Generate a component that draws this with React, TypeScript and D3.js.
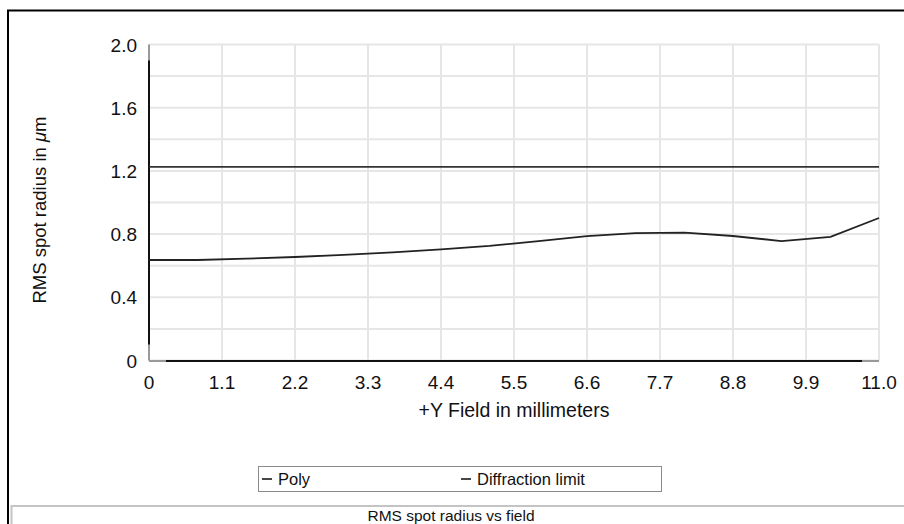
import { useEffect, useRef } from "react";
import * as d3 from "d3";

// field positions (mm) and RMS spot radius (um)
const fieldMm = [0, 0.73, 1.47, 2.2, 2.93, 3.67, 4.4, 5.13, 5.87, 6.6, 7.33, 8.07, 8.8, 9.53, 10.27, 11.0];
const polyRms = [0.636, 0.636, 0.645, 0.655, 0.668, 0.684, 0.703, 0.725, 0.755, 0.787, 0.806, 0.809, 0.788, 0.756, 0.782, 0.902];
const diffractionLimit = [1.226, 1.226];
const diffractionField = [0, 11.0];

const xTicks = [0, 1.1, 2.2, 3.3, 4.4, 5.5, 6.6, 7.7, 8.8, 9.9, 11.0];
const xTickLabels = ["0", "1.1", "2.2", "3.3", "4.4", "5.5", "6.6", "7.7", "8.8", "9.9", "11.0"];
const yTicks = [0, 0.4, 0.8, 1.2, 1.6, 2.0];
const yTickLabels = ["0", "0.4", "0.8", "1.2", "1.6", "2.0"];
const yGrid = [0, 0.2, 0.4, 0.6, 0.8, 1.0, 1.2, 1.4, 1.6, 1.8, 2.0];

const legendNames = ["Poly", "Diffraction limit"];
const chartTitle = "RMS spot radius vs field";

const FONT = "'Liberation Sans', Arial, sans-serif";

export default function App() {
  const ref = useRef<SVGSVGElement>(null);

  useEffect(() => {
    const svg = d3.select(ref.current);
    svg.selectAll("*").remove();

    const x = d3.scaleLinear().domain([0, 11]).range([149, 879]);
    const y = d3.scaleLinear().domain([0, 2]).range([360.5, 44.5]);

    // outer frame
    svg.append("rect")
      .attr("x", 8).attr("y", 10.5)
      .attr("width", 920).attr("height", 560)
      .attr("fill", "white")
      .attr("stroke", "black")
      .attr("stroke-width", 2);

    // title panel at bottom
    svg.append("rect")
      .attr("x", 11.5).attr("y", 506)
      .attr("width", 920).attr("height", 60)
      .attr("fill", "white")
      .attr("stroke", "#c4c4c4")
      .attr("stroke-width", 2);

    svg.append("text")
      .attr("x", 451).attr("y", 521)
      .attr("text-anchor", "middle")
      .attr("font-family", FONT)
      .attr("font-size", 15.5)
      .attr("fill", "#111")
      .text(chartTitle);

    // grid
    const grid = svg.append("g");
    grid.selectAll(".vg")
      .data(xTicks)
      .join("line")
      .attr("x1", d => x(d)).attr("x2", d => x(d))
      .attr("y1", y(2)).attr("y2", y(0))
      .attr("stroke", "#e6e6e6")
      .attr("stroke-width", 2);
    grid.selectAll(".hg")
      .data(yGrid)
      .join("line")
      .attr("x1", x(0)).attr("x2", x(11))
      .attr("y1", d => y(d)).attr("y2", d => y(d))
      .attr("stroke", "#e6e6e6")
      .attr("stroke-width", 2);

    // axes lines: gray ends, black middle
    const ax = svg.append("g");
    ax.append("line")
      .attr("x1", x(0)).attr("x2", x(0))
      .attr("y1", y(2)).attr("y2", y(0))
      .attr("stroke", "#999").attr("stroke-width", 2);
    ax.append("line")
      .attr("x1", x(0)).attr("x2", x(0))
      .attr("y1", y(2) + 16).attr("y2", y(0) - 16)
      .attr("stroke", "#111").attr("stroke-width", 2);
    ax.append("line")
      .attr("x1", x(0)).attr("x2", x(11))
      .attr("y1", y(0) + 0.5).attr("y2", y(0) + 0.5)
      .attr("stroke", "#999").attr("stroke-width", 2);
    ax.append("line")
      .attr("x1", x(0) + 17).attr("x2", x(11) - 17)
      .attr("y1", y(0) + 0.5).attr("y2", y(0) + 0.5)
      .attr("stroke", "#111").attr("stroke-width", 2);

    // tick labels
    svg.selectAll(".xl")
      .data(xTicks)
      .join("text")
      .attr("x", d => x(d))
      .attr("y", 389)
      .attr("text-anchor", "middle")
      .attr("font-family", FONT)
      .attr("font-size", 19)
      .attr("fill", "#111")
      .text((d, i) => xTickLabels[i]);

    svg.selectAll(".yl")
      .data(yTicks)
      .join("text")
      .attr("x", 137)
      .attr("y", d => y(d) + 7)
      .attr("text-anchor", "end")
      .attr("font-family", FONT)
      .attr("font-size", 19)
      .attr("fill", "#111")
      .text((d, i) => yTickLabels[i]);

    // axis titles
    svg.append("text")
      .attr("x", 514).attr("y", 417)
      .attr("text-anchor", "middle")
      .attr("font-family", FONT)
      .attr("font-size", 19.5)
      .attr("fill", "#111")
      .text("+Y Field in millimeters");

    const yt = svg.append("text")
      .attr("transform", `translate(46, 210) rotate(-90)`)
      .attr("text-anchor", "middle")
      .attr("font-family", FONT)
      .attr("font-size", 18.5)
      .attr("fill", "#111");
    yt.append("tspan").text("RMS spot radius in ");
    yt.append("tspan").attr("font-style", "italic").text("\u03bc");
    yt.append("tspan").text("m");

    // series
    const line = d3.line<[number, number]>()
      .x(d => x(d[0]))
      .y(d => y(d[1]));

    svg.append("path")
      .datum(diffractionField.map((f, i) => [f, diffractionLimit[i]] as [number, number]))
      .attr("d", line)
      .attr("fill", "none")
      .attr("stroke", "#333")
      .attr("stroke-width", 1.8);

    svg.append("path")
      .datum(fieldMm.map((f, i) => [f, polyRms[i]] as [number, number]))
      .attr("d", line)
      .attr("fill", "none")
      .attr("stroke", "#222")
      .attr("stroke-width", 1.8);

    // legend
    const lg = svg.append("g");
    lg.append("rect")
      .attr("x", 258.5).attr("y", 466.5)
      .attr("width", 403).attr("height", 25)
      .attr("fill", "white")
      .attr("stroke", "#8a8a8a")
      .attr("stroke-width", 1);
    const legendX = [262, 461];
    legendNames.forEach((name, i) => {
      lg.append("line")
        .attr("x1", legendX[i]).attr("x2", legendX[i] + 10)
        .attr("y1", 479).attr("y2", 479)
        .attr("stroke", "#333").attr("stroke-width", 1.8);
      lg.append("text")
        .attr("x", legendX[i] + 16).attr("y", 485)
        .attr("font-family", FONT)
        .attr("font-size", 16.5)
        .attr("fill", "#111")
        .text(name);
    });
  }, []);

  return (
    <svg
      ref={ref}
      width={904}
      height={524}
      style={{ position: "absolute", left: 0, top: 0 }}
    ></svg>
  );
}
